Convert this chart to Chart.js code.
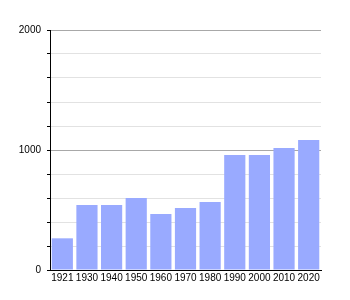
<!DOCTYPE html>
<html>
<head>
<meta charset="utf-8">
<script src="https://cdn.jsdelivr.net/npm/chart.js@4"></script>
<style>
  html, body { margin: 0; padding: 0; background: #fff; }
  #chart { display: block; }
</style>
</head>
<body>
<canvas id="chart" width="350" height="300"></canvas>
<script>
// Datos
const years = ['1921', '1930', '1940', '1950', '1960', '1970', '1980', '1990', '2000', '2010', '2020'];
const population = [264, 542, 542, 600, 467, 517, 567, 958, 958, 1017, 1083];
const yLabels = [0, 1000, 2000];

document.addEventListener('DOMContentLoaded', function() {
    initChart();
});

function initChart() {
    const ctx = document.getElementById('chart').getContext('2d');

    new Chart(ctx, {
        type: 'bar',
        data: {
            labels: years,
            datasets: [{
                data: population,
                backgroundColor: 'rgb(153, 170, 255)',
                borderWidth: 0,
                barPercentage: 0.86,
                categoryPercentage: 1
            }]
        },
        options: {
            responsive: false,
            animation: false,
            layout: { padding: { left: 0, right: 29, top: 30, bottom: 0 } },
            plugins: {
                legend: { display: false },
                tooltip: { enabled: false }
            },
            scales: {
                x: {
                    grid: { display: false, drawTicks: false },
                    border: { display: true, color: '#000', width: 1 },
                    ticks: {
                        color: '#000',
                        font: { family: 'Liberation Sans, Arial', size: 10 },
                        padding: 2,
                        maxRotation: 0,
                        autoSkip: false
                    },
                    afterFit: function(scale) { scale.height = 30; }
                },
                y: {
                    min: 0,
                    max: 2000,
                    ticks: {
                        stepSize: 200,
                        autoSkip: false,
                        color: '#000',
                        font: { family: 'Liberation Sans, Arial', size: 10 },
                        padding: 6,
                        callback: function(value) {
                            return yLabels.includes(value) ? String(value) : '';
                        }
                    },
                    grid: {
                        color: function(c) {
                            return yLabels.includes(c.tick.value) ? '#a8a8a8' : '#e2e2e2';
                        },
                        tickColor: '#000',
                        tickLength: 3
                    },
                    border: { display: true, color: '#000', width: 1 },
                    afterFit: function(scale) { scale.width = 50; }
                }
            }
        }
    });
}
</script>
</body>
</html>
